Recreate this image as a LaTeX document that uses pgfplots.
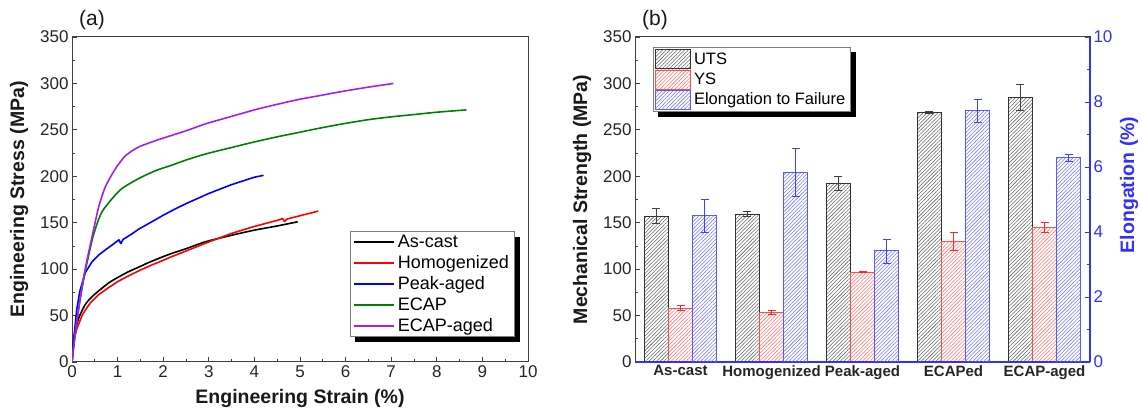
\documentclass[border=0pt]{standalone}
\usepackage{pgfplots}
\pgfplotsset{compat=1.18}
\usepackage{fontspec}
\setmainfont{Liberation Sans}
\usetikzlibrary{patterns.meta}
\pgfdeclarelayer{background}
\pgfsetlayers{background,main}

\definecolor{axgray}{HTML}{404040}
\definecolor{ecapaged}{HTML}{A020F0}
\definecolor{ecapgreen}{HTML}{008000}
\definecolor{elaxis}{HTML}{3030FF}

\tikzset{
  utsstyle/.style={pattern={Lines[angle=45,distance=2.6pt,line width=0.55pt]}, pattern color=black!60, draw=black!80, line width=0.7pt},
  ysstyle/.style={pattern={Lines[angle=45,distance=2.6pt,line width=0.55pt]}, pattern color=red!55, draw=red!70, line width=0.7pt},
  elstyle/.style={pattern={Lines[angle=45,distance=2.6pt,line width=0.55pt]}, pattern color=blue!55, draw=blue!65, line width=0.7pt},
}

\pgfplotsset{
  base/.style={
    scale only axis,
    axis line style={axgray, line width=1pt},
    tick style={axgray, line width=0.8pt},
    tick align=inside,
    major tick length=5pt, minor tick length=3pt,
    tick label style={font=\fontsize{17}{20}\selectfont, text=black!85},
    /pgf/number format/assume math mode=true,
    label style={font=\fontsize{19.5}{22}\selectfont\bfseries, text=black!90},
  },
}

\pgfplotstableread{
x      y      e
-0.266 157.3  8
0.734  159.5  2.5
1.734  192.5  8
2.734  268.8  1.2
3.734  284.8  14
}\utsdata
\pgfplotstableread{
x      y      e
0      58.2   2.7
1      53.8   2.0
2      96.8   0.6
3      129.8  10
4      145    5.5
}\ysdata
\pgfplotstableread{
x      y      e
0.266  4.50   0.50
1.266  5.84   0.75
2.266  3.42   0.37
3.266  7.73   0.35
4.266  6.29   0.10
}\eldata

\begin{document}
\begin{tikzpicture}[x=1pt,y=1pt]
\useasboundingbox (0,0) rectangle (1142,411);

\node[font=\fontsize{21}{24}\selectfont, anchor=west, inner sep=0pt, text=black!90] at (79,391) {(a)};
\node[font=\fontsize{21}{24}\selectfont, anchor=west, inner sep=0pt, text=black!90] at (642,391) {(b)};

% ---------------- panel (a)
\begin{axis}[base,
  at={(72pt,49pt)}, anchor=south west,
  width=456pt, height=325pt,
  xmin=0, xmax=10, ymin=0, ymax=350,
  xtick={0,...,10}, ytick={0,50,...,350},
  minor x tick num=1, minor y tick num=1,
  tick pos=left,
  xlabel={Engineering Strain (\%)},
  ylabel={Engineering Stress (MPa)},
  xlabel style={at={(axis description cs:0.5,-0.111)}, anchor=center},
  ylabel style={at={(axis description cs:-0.116,0.5)}, anchor=center},
  legend style={name=legA, at={(axis description cs:0.971,0.077)}, anchor=south east,
    draw=black!50, fill=white, line width=0.6pt,
    font=\fontsize{18}{21}\selectfont, row sep=4.6pt, inner sep=2.5pt,
    nodes={inner xsep=3pt, inner ysep=1pt}},
  legend cell align=left,
  legend image code/.code={\draw[#1, line width=2.2pt] (0pt,0pt) -- (40pt,0pt);},
  every axis plot/.append style={line width=1.6pt, line join=round},
]
\addplot[black, smooth, tension=0.4] coordinates {(0,0)(0.02,15)(0.05,29)(0.1,40)(0.17,50)(0.28,61)(0.4,68.5)(0.57,76)(0.8,85)(1.0,91)(1.25,97.5)(1.5,103)(1.7,107.5)(2,113.5)(2.19,117)(2.5,122)(2.93,129.5)(3.5,136.5)(4,142)(4.5,146.5)(4.95,151)};
\addlegendentry{As-cast}
\addplot[red] coordinates {(0,0)(0.02,12)(0.05,25)(0.1,35)(0.22,50)(0.28,55)(0.4,63.5)(0.57,72)(0.8,80)(1.0,86.5)(1.25,93)(1.5,99)(1.75,104.5)(2,109.5)(2.19,113.5)(2.5,119.5)(2.93,128)(3.5,138.5)(4,146)(4.5,152.5)(4.62,154.5)(4.66,151.5)(4.72,154)(5,157.5)(5.4,162.5)};
\addlegendentry{Homogenized}
\addplot[blue] coordinates {(0,0)(0.05,30)(0.1,55)(0.17,76)(0.29,96)(0.44,108)(0.58,115)(0.73,120.7)(0.88,126)(1.0,130.5)(1.03,131.5)(1.07,127.5)(1.12,132)(1.3,137.5)(1.46,143)(1.75,151)(2.0,158)(2.25,164.5)(2.5,170.5)(2.75,176)(3.0,181.5)(3.5,191)(4,199)(4.2,201)};
\addlegendentry{Peak-aged}
\addplot[ecapgreen, smooth, tension=0.4] coordinates {(0,0)(0.05,22)(0.1,42)(0.2,74)(0.3,100)(0.44,131)(0.55,149)(0.66,162)(0.88,176)(1.1,187)(1.46,197.5)(1.83,206)(2.19,212)(2.5,217.5)(2.93,224)(3.5,231)(4,237)(4.5,242.5)(5,247.5)(5.5,252.5)(6,257)(6.5,261)(7,264)(7.5,266.5)(8,269)(8.65,271.5)};
\addlegendentry{ECAP}
\addplot[ecapaged, smooth, tension=0.4] coordinates {(0,0)(0.05,22)(0.1,42)(0.22,81)(0.3,103)(0.44,135)(0.585,167)(0.73,188.5)(0.95,208)(1.17,222)(1.46,231.5)(1.9,239.5)(2.5,249)(2.93,256.5)(3.5,264.5)(4,271.5)(4.5,277.5)(5,283)(5.5,287.5)(6,292)(6.5,296)(7.05,300)};
\addlegendentry{ECAP-aged}
\end{axis}
\begin{pgfonlayer}{background}
\fill[black] ([shift={(5.5pt,-5.5pt)}]legA.south west) rectangle ([shift={(5.5pt,-5.5pt)}]legA.north east);
\end{pgfonlayer}

% ---------------- panel (b), left axis
\begin{axis}[base,
  at={(635pt,49pt)}, anchor=south west,
  width=455pt, height=325pt,
  xmin=-0.5, xmax=4.5, ymin=0, ymax=350,
  xtick={0,...,4},
  xticklabels={As-cast,Homogenized,Peak-aged,ECAPed,ECAP-aged},
  x tick label style={font=\fontsize{15}{18}\selectfont\bfseries},
  xtick style={draw=none},
  ytick={0,50,...,350}, minor y tick num=1,
  tick pos=left,
  ylabel={Mechanical Strength (MPa)},
  ylabel style={at={(axis description cs:-0.116,0.5)}, anchor=center},
  legend style={name=legB, at={(axis description cs:0.0396,0.969)}, anchor=north west,
    draw=black!50, fill=white, line width=0.6pt,
    font=\fontsize{16.5}{20}\selectfont, row sep=0.5pt, inner sep=2pt,
    nodes={inner xsep=3pt, inner ysep=1pt}},
  legend cell align=left,
]
\addplot[ybar, bar width=0.266, bar shift=0, utsstyle, forget plot,
  error bars/.cd, y dir=both, y explicit,
  error bar style={black!75, line width=0.6pt},
  error mark options={rotate=90, mark size=4pt, black!75, line width=0.6pt}]
  table[x=x, y=y, y error=e] {\utsdata};
\addplot[ybar, bar width=0.266, bar shift=0, ysstyle, forget plot,
  error bars/.cd, y dir=both, y explicit,
  error bar style={red!85, line width=0.6pt},
  error mark options={rotate=90, mark size=4pt, red!85, line width=0.6pt}]
  table[x=x, y=y, y error=e] {\ysdata};
\addlegendimage{legend image code/.code={\draw[utsstyle] (0pt,-9.5pt) rectangle (35pt,9.5pt);}}
\addlegendentry{UTS}
\addlegendimage{legend image code/.code={\draw[ysstyle] (0pt,-9.5pt) rectangle (35pt,9.5pt);}}
\addlegendentry{YS}
\addlegendimage{legend image code/.code={\draw[elstyle] (0pt,-9.5pt) rectangle (35pt,9.5pt);}}
\addlegendentry{Elongation to Failure}
\end{axis}
\begin{pgfonlayer}{background}
\fill[black] ([shift={(5pt,-5pt)}]legB.south west) rectangle ([shift={(5pt,-5pt)}]legB.north east);
\end{pgfonlayer}

% ---------------- panel (b), right axis
\begin{axis}[base,
  at={(635pt,49pt)}, anchor=south west,
  width=455pt, height=325pt,
  xmin=-0.5, xmax=4.5, ymin=0, ymax=10,
  axis x line*=none, axis y line*=right,
  xtick=\empty,
  axis line style={elaxis, line width=1.2pt},
  ytick style={elaxis, line width=0.8pt},
  ytick={0,2,...,10}, minor y tick num=1,
  y tick label style={text=elaxis},
  ylabel={Elongation (\%)},
  ylabel style={at={(axis description cs:1.086,0.545)}, anchor=center, text=elaxis},
]
\addplot[ybar, bar width=0.266, bar shift=0, elstyle,
  error bars/.cd, y dir=both, y explicit,
  error bar style={blue!75, line width=0.6pt},
  error mark options={rotate=90, mark size=4pt, blue!75, line width=0.6pt}]
  table[x=x, y=y, y error=e] {\eldata};
\end{axis}
\end{tikzpicture}
\end{document}
